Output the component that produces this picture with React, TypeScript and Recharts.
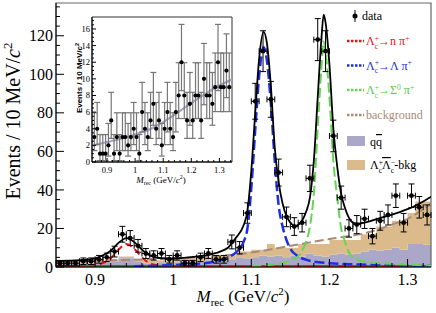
import {
  Area,
  ComposedChart,
  ErrorBar,
  Line,
  ReferenceArea,
  Scatter,
  XAxis,
  YAxis,
} from "recharts"

const serif = '"Liberation Serif", "Times New Roman", serif'
const sans = '"Liberation Sans", Arial, sans-serif'

// ---- main plot: 10 MeV bins, 0.85 - 1.33 GeV
const binCenters = [
  0.855, 0.865, 0.875, 0.885, 0.895, 0.905, 0.915, 0.925, 0.935, 0.945, 0.955, 0.965,
  0.975, 0.985, 0.995, 1.005, 1.015, 1.025, 1.035, 1.045, 1.055, 1.065, 1.075, 1.085,
  1.095, 1.105, 1.115, 1.125, 1.135, 1.145, 1.155, 1.165, 1.175, 1.185, 1.195, 1.205,
  1.215, 1.225, 1.235, 1.245, 1.255, 1.265, 1.275, 1.285, 1.295, 1.305, 1.315, 1.325,
]
const mainCounts = [
  2, 2, 2, 3, 3, 4, 5, 8, 17, 15, 11, 7, 6, 7, 4, 6, 2, 2, 5, 7, 4, 4, 13, 10, 28, 86,
  112, 87, 49, 26, 21, 23, 46, 118, 112, 68, 36, 20, 22, 25, 16, 24, 27, 37, 23, 37, 31, 27,
]
const mainErr = [
  1.4, 1.4, 1.4, 1.7, 1.7, 2, 2.2, 2.8, 4.1, 3.9, 3.3, 2.6, 2.4, 2.6, 2, 2.4, 1.4, 1.4,
  2.2, 2.6, 2, 2, 3.6, 3.2, 5.3, 9.3, 10.6, 9.3, 7, 5.1, 4.6, 4.8, 6.8, 10.9, 10.6, 8.2,
  6, 4.5, 4.7, 5, 4, 4.9, 5.2, 6.1, 4.8, 6.1, 5.6, 5.2,
]
const binHalfWidth = 0.005

const histEdges = [
  0.85, 0.86, 0.87, 0.88, 0.89, 0.9, 0.91, 0.92, 0.93, 0.94, 0.95, 0.96, 0.97, 0.98, 0.99,
  1.0, 1.01, 1.02, 1.03, 1.04, 1.05, 1.06, 1.07, 1.08, 1.09, 1.1, 1.11, 1.12, 1.13, 1.14,
  1.15, 1.16, 1.17, 1.18, 1.19, 1.2, 1.21, 1.22, 1.23, 1.24, 1.25, 1.26, 1.27, 1.28, 1.29,
  1.3, 1.31, 1.32, 1.33,
]
const qqHist = [
  2, 2, 2, 1.5, 2, 2, 2.5, 3, 4.5, 4.5, 3, 2, 2, 2.5, 2, 2.5, 3, 2.5, 3, 3.5, 4, 3.5, 4, 5,
  4.5, 5, 6, 5.5, 6, 5, 6, 5.5, 7, 6, 5.5, 6.5, 7, 6.5, 7, 8, 9, 8.5, 9, 10, 9, 12, 12, 11.5,
]
const lclcHist = [
  1.5, 1.5, 1.5, 2, 1.5, 1.5, 1, 1, 1, 1, 1, 1.5, 1.5, 1, 1.5, 2, 1.5, 2, 1.5, 1.5, 2, 2.5,
  2, 3, 3.5, 4, 3, 6.5, 4, 5, 4, 6.5, 5, 6, 6.5, 7.5, 7, 7.5, 7, 9, 8, 12.5, 12, 14, 15, 16,
  22, 22.5,
]

const totalX = [
  0.85, 0.87, 0.89, 0.9, 0.91, 0.92, 0.93, 0.94, 0.95, 0.96, 0.97, 0.98, 0.99, 1.0, 1.02,
  1.04, 1.06, 1.07, 1.08, 1.09, 1.095, 1.1, 1.105, 1.11, 1.1157, 1.12, 1.125, 1.13, 1.135,
  1.14, 1.145, 1.15, 1.155, 1.16, 1.165, 1.17, 1.175, 1.18, 1.185, 1.19, 1.1926, 1.195, 1.2,
  1.205, 1.21, 1.215, 1.22, 1.225, 1.23, 1.235, 1.24, 1.25, 1.26, 1.27, 1.28, 1.29, 1.3,
  1.31, 1.32, 1.33,
]
const totalY = [
  3.2, 3.3, 3.8, 4.5, 6, 8.5, 12.5, 15, 13, 9, 6, 4.8, 4.5, 4.5, 5, 6, 8, 10, 15, 21.5, 29,
  50, 80, 108, 122, 116, 94, 62, 44, 33, 26.5, 23, 21.5, 21.8, 24, 28.5, 36, 55, 88, 120,
  131, 127, 105, 72, 52, 38, 30.5, 25.5, 23, 22.5, 22.7, 23.5, 24.8, 26, 27.2, 28.5, 30,
  31.8, 34, 36.5,
]
const nPiX = [0.85, 0.88, 0.9, 0.91, 0.92, 0.93, 0.94, 0.95, 0.96, 0.97, 0.98, 1.0, 1.05, 1.33]
const nPiY = [0.3, 0.5, 1, 2, 4.5, 9, 12, 9.5, 5, 2, 0.9, 0.4, 0.3, 0.2]
const lamPiX = [
  0.95, 1.0, 1.04, 1.06, 1.07, 1.08, 1.09, 1.095, 1.1, 1.105, 1.11, 1.1157, 1.12, 1.125,
  1.13, 1.135, 1.14, 1.145, 1.15, 1.16, 1.17, 1.18, 1.2, 1.22, 1.25, 1.3, 1.33,
]
const lamPiY = [
  0.4, 1, 2, 3.5, 5, 7.5, 13, 20, 41, 71, 99, 114, 107, 85, 55, 32, 21, 14, 9.5, 5.5, 3.8,
  2.8, 2, 1.5, 1.2, 0.8, 0.6,
]
const sigPiX = [
  1.1, 1.12, 1.14, 1.15, 1.16, 1.165, 1.17, 1.175, 1.18, 1.185, 1.19, 1.1926, 1.195, 1.2,
  1.205, 1.21, 1.215, 1.22, 1.225, 1.23, 1.235, 1.25, 1.27, 1.3, 1.33,
]
const sigPiY = [
  0.6, 1, 2, 3.5, 5.5, 8.5, 13, 21, 38, 72, 105, 117, 112, 88, 55, 36, 20, 13, 7.5, 5, 4,
  2.5, 1.8, 1.2, 0.8,
]
const bkgX = [0.85, 0.9, 0.95, 1.0, 1.05, 1.1, 1.15, 1.2, 1.25, 1.28, 1.3, 1.32, 1.33]
const bkgY = [3, 3.3, 3.8, 4.5, 5.5, 7.5, 11, 14.5, 18, 22, 25, 30, 33]
const floorX = [0.85, 1.33]
const floorY = [0.5, 0.5]

const xMajor = [0.9, 1, 1.1, 1.2, 1.3]
const xTicks = [
  0.86, 0.88, 0.9, 0.92, 0.94, 0.96, 0.98, 1, 1.02, 1.04, 1.06, 1.08, 1.1, 1.12, 1.14, 1.16,
  1.18, 1.2, 1.22, 1.24, 1.26, 1.28, 1.3, 1.32,
]
const yMajor = [0, 20, 40, 60, 80, 100, 120]
const yTicks = [
  0, 5, 10, 15, 20, 25, 30, 35, 40, 45, 50, 55, 60, 65, 70, 75, 80, 85, 90, 95, 100, 105,
  110, 115, 120, 125, 130, 135,
]

// ---- inset: same binning, full range
const insetCenters = [...binCenters, 1.335]
const insetCounts = [
  3, 4, 1, 1, 1, 2, 5, 1, 3, 1, 3, 3, 2, 3, 4, 3, 1, 6, 4, 3, 5, 7, 4, 5, 2, 4, 6, 4, 3, 6,
  8, 12, 8, 5, 7, 5, 8, 8, 5, 10, 8, 8, 7, 9, 12, 9, 9, 11, 9,
]
const insetErrLow = [
  1.63, 1.91, 0.83, 0.83, 0.83, 1.29, 2.16, 0.83, 1.63, 0.83, 1.63, 1.63, 1.29, 1.63, 1.91,
  1.63, 0.83, 2.38, 1.91, 1.63, 2.16, 2.58, 1.91, 2.16, 1.29, 1.91, 2.38, 1.91, 1.63, 2.38,
  2.77, 3.41, 2.77, 2.16, 2.58, 2.16, 2.77, 2.77, 2.16, 3.11, 2.77, 2.77, 2.58, 2.94, 3.41,
  2.94, 2.94, 3.26, 2.94,
]
const insetErrHigh = [
  2.92, 3.16, 2.3, 2.3, 2.3, 2.64, 3.38, 2.3, 2.92, 2.3, 2.92, 2.92, 2.64, 2.92, 3.16, 2.92,
  2.3, 3.58, 3.16, 2.92, 3.38, 3.77, 3.16, 3.38, 2.64, 3.16, 3.58, 3.16, 2.92, 3.58, 3.94,
  4.55, 3.94, 3.38, 3.77, 3.38, 3.94, 3.94, 3.38, 4.26, 3.94, 3.94, 3.77, 4.11, 4.55, 4.11,
  4.11, 4.41, 4.11,
]
const insetCurveX = [0.85, 0.9, 0.95, 1.0, 1.05, 1.1, 1.15, 1.2, 1.25, 1.3, 1.35]
const insetCurveY = [2, 2.4, 2.8, 3.3, 3.9, 4.8, 5.9, 7.1, 8.2, 9.2, 10]
const insetYMajor = [0, 2, 4, 6, 8, 10, 12, 14, 16]
const insetYTicks = [
  0, 0.5, 1, 1.5, 2, 2.5, 3, 3.5, 4, 4.5, 5, 5.5, 6, 6.5, 7, 7.5, 8, 8.5, 9, 9.5, 10, 10.5,
  11, 11.5, 12, 12.5, 13, 13.5, 14, 14.5, 15, 15.5, 16, 16.5, 17,
]
const insetXTicks = [
  0.86, 0.88, 0.9, 0.92, 0.94, 0.96, 0.98, 1, 1.02, 1.04, 1.06, 1.08, 1.1, 1.12, 1.14, 1.16,
  1.18, 1.2, 1.22, 1.24, 1.26, 1.28, 1.3, 1.32, 1.34,
]

const zip = (xs: number[], ys: number[]) => xs.map((x, i) => ({ x, y: ys[i] }))
const isIn = (list: number[], v: number) => list.some((m) => Math.abs(m - v) < 1e-6)

// ticks drawn inward, labels outside (ROOT style)
const xTickFactory =
  (major: number[], big: number, small: number, fontSize: number, offset: number) =>
  (props: any) => {
    const { x, y, payload } = props
    const isMajor = isIn(major, payload.value)
    return (
      <g>
        <line x1={x} x2={x} y1={y} y2={y - (isMajor ? big : small)} stroke="#000" />
        {isMajor && (
          <text x={x} y={y + offset} textAnchor="middle" fontSize={fontSize} fontFamily={serif} fill="#000">
            {String(payload.value)}
          </text>
        )}
      </g>
    )
  }

const yTickFactory =
  (major: number[], big: number, small: number, fontSize: number, gap: number) =>
  (props: any) => {
    const { x, y, payload } = props
    const isMajor = isIn(major, payload.value)
    return (
      <g>
        <line x1={x} x2={x + (isMajor ? big : small)} y1={y} y2={y} stroke="#000" />
        {isMajor && (
          <text x={x - gap} y={y} dy="0.35em" textAnchor="end" fontSize={fontSize} fontFamily={serif} fill="#000">
            {String(payload.value)}
          </text>
        )}
      </g>
    )
  }

const dot = (r: number) => (p: any) => <circle cx={p.cx} cy={p.cy} r={r} fill="#000" />

const MainChart = () => {
  const hist = histEdges.map((x, i) => {
    const k = Math.min(i, qqHist.length - 1)
    return { x, qq: qqHist[k], lclc: lclcHist[k] }
  })
  const points = binCenters.map((x, i) => ({ x, y: mainCounts[i], ey: mainErr[i], ex: binHalfWidth }))

  const dashed = (data: any[], color: string, width: number, dash: string) => (
    <Line
      data={data}
      dataKey="y"
      type="monotone"
      stroke={color}
      strokeWidth={width}
      strokeDasharray={dash}
      dot={false}
      activeDot={false}
      isAnimationActive={false}
    />
  )

  return (
    <ComposedChart width={436} height={313} data={hist} margin={{ top: 3, right: 5, bottom: 0, left: 0 }}>
      <XAxis
        dataKey="x"
        type="number"
        domain={[0.85, 1.33]}
        allowDataOverflow
        ticks={xTicks}
        interval={0}
        height={46}
        tickSize={0}
        tickMargin={0}
        tickLine={false}
        axisLine={{ stroke: "#000" }}
        tick={xTickFactory(xMajor, 8, 4, 16, 18)}
      />
      <YAxis
        type="number"
        domain={[0, 137]}
        allowDataOverflow
        ticks={yTicks}
        interval={0}
        width={56}
        tickSize={0}
        tickMargin={0}
        tickLine={false}
        axisLine={{ stroke: "#000" }}
        tick={yTickFactory(yMajor, 8, 4, 16, 3)}
      />
      <Area type="stepAfter" dataKey="qq" stackId="h" stroke="none" fill="#aaa7c9" fillOpacity={1} isAnimationActive={false} />
      <Area type="stepAfter" dataKey="lclc" stackId="h" stroke="none" fill="#dbbb8c" fillOpacity={1} isAnimationActive={false} />
      <Line data={zip(floorX, floorY)} dataKey="y" stroke="#2f7d2f" strokeWidth={2} dot={false} activeDot={false} isAnimationActive={false} />
      {dashed(zip(nPiX, nPiY), "#ee1111", 2, "7 4")}
      {dashed(zip(bkgX, bkgY), "#a88a77", 2, "9 4")}
      {dashed(zip(lamPiX, lamPiY), "#1f2ee6", 2.5, "10 4")}
      {dashed(zip(sigPiX, sigPiY), "#66d455", 2, "10 4")}
      <Line data={zip(totalX, totalY)} dataKey="y" type="monotone" stroke="#000" strokeWidth={1.8} dot={false} activeDot={false} isAnimationActive={false} />
      <Scatter data={points} dataKey="y" fill="#000" shape={dot(2.4)} isAnimationActive={false}>
        <ErrorBar dataKey="ey" direction="y" width={3} stroke="#000" strokeWidth={1} />
        <ErrorBar dataKey="ex" direction="x" width={3} stroke="#000" strokeWidth={1} />
      </Scatter>
      <ReferenceArea x1={0.85} x2={1.33} y1={0} y2={137} fill="none" stroke="#666" strokeWidth={1.2} />
    </ComposedChart>
  )
}

const InsetChart = () => {
  const points = insetCenters.map((x, i) => ({
    x,
    y: insetCounts[i],
    ey: [insetErrLow[i], insetErrHigh[i]],
  }))
  return (
    <ComposedChart width={175} height={175} margin={{ top: 7, right: 3, bottom: 0, left: 0 }}>
      <XAxis
        dataKey="x"
        type="number"
        domain={[0.8466, 1.3448]}
        allowDataOverflow
        ticks={insetXTicks}
        interval={0}
        height={23}
        tickSize={0}
        tickMargin={0}
        tickLine={false}
        axisLine={{ stroke: "#000" }}
        tick={xTickFactory(xMajor, 4, 2, 8.5, 11)}
      />
      <YAxis
        type="number"
        domain={[0, 17.44]}
        allowDataOverflow
        ticks={insetYTicks}
        interval={0}
        width={32}
        tickSize={0}
        tickMargin={0}
        tickLine={false}
        axisLine={{ stroke: "#000" }}
        tick={yTickFactory(insetYMajor, 4, 2, 8.5, 2)}
      />
      <ReferenceArea x1={0.8466} x2={1.3448} y1={0} y2={17.44} fill="#fff" fillOpacity={1} stroke="#333" strokeWidth={1} />
      <Line data={zip(insetCurveX, insetCurveY)} dataKey="y" type="monotone" stroke="#a8a4c8" strokeWidth={2.2} dot={false} activeDot={false} isAnimationActive={false} />
      <Scatter data={points} dataKey="y" fill="#000" shape={dot(2.1)} isAnimationActive={false}>
        <ErrorBar dataKey="ey" direction="y" width={3} stroke="#777" strokeWidth={1.2} />
      </Scatter>
    </ComposedChart>
  )
}

const LcText = ({ x, y, color, tail, bar }: { x: number; y: number; color: string; tail: any; bar?: boolean }) => (
  <text x={x} y={y} fontSize={12} fontFamily={serif} fill={color}>
    Λ
    <tspan fontSize={7.5} dy={-4.5}>+</tspan>
    <tspan fontSize={7.5} dx={-4.2} dy={8}>c</tspan>
    <tspan fontSize={12} dy={-3.5}>{tail}</tspan>
  </text>
)

const Overlay = () => {
  const legendRows = [
    { y: 41, color: "#ee1111" },
    { y: 65.5, color: "#1f2ee6" },
    { y: 90, color: "#66d455" },
    { y: 115, color: "#a88a77" },
  ]
  return (
    <svg width={436} height={313} style={{ position: "absolute", left: 0, top: 0, pointerEvents: "none" }}>
      {/* main axis titles */}
      <text transform="translate(20,121) rotate(-90)" textAnchor="middle" fontSize={20} fontFamily={serif} fill="#000">
        Events / 10 MeV/<tspan fontStyle="italic">c</tspan>
        <tspan fontSize={13} dy={-8}>2</tspan>
      </text>
      <text x={243} y={302} textAnchor="middle" fontSize={17} fontFamily={serif} fill="#000">
        <tspan fontStyle="italic">M</tspan>
        <tspan fontSize={11} dy={4}>rec</tspan>
        <tspan dy={-4}> (GeV/</tspan>
        <tspan fontStyle="italic">c</tspan>
        <tspan fontSize={11} dy={-7}>2</tspan>
        <tspan dy={7}>)</tspan>
      </text>

      {/* inset axis titles */}
      <text transform="translate(82,78) rotate(-90)" textAnchor="middle" fontSize={8} fontWeight="bold" fontFamily={sans} fill="#000">
        Events / 10 MeV/<tspan fontStyle="italic">c</tspan>
        <tspan fontSize={5.5} dy={-3}>2</tspan>
      </text>
      <text x={161} y={183} textAnchor="middle" fontSize={9} fontFamily={serif} fill="#000">
        <tspan fontStyle="italic">M</tspan>
        <tspan fontSize={6} dy={2}>rec</tspan>
        <tspan dy={-2}> (GeV/</tspan>
        <tspan fontStyle="italic">c</tspan>
        <tspan fontSize={6} dy={-4}>2</tspan>
        <tspan dy={4}>)</tspan>
      </text>

      {/* legend */}
      <line x1={355} x2={355} y1={10} y2={22} stroke="#000" strokeWidth={1} />
      <circle cx={355} cy={16} r={2.5} fill="#000" />
      <text x={362} y={20} fontSize={12} fontFamily={serif} fill="#000">data</text>
      {legendRows.map((r) => (
        <line key={r.y} x1={347} x2={364} y1={r.y} y2={r.y} stroke={r.color} strokeWidth={2.5} strokeDasharray="2.5 1.5" />
      ))}
      <LcText x={366} y={45} color="#ee1111" tail={<>→n π<tspan fontSize={7.5} dy={-4.5}>+</tspan></>} />
      <LcText x={366} y={69.5} color="#1f2ee6" tail={<>→Λ π<tspan fontSize={7.5} dy={-4.5}>+</tspan></>} />
      <LcText
        x={366}
        y={94}
        color="#55cc44"
        tail={
          <>
            →Σ<tspan fontSize={7.5} dy={-4.5}>0</tspan>
            <tspan fontSize={12} dy={4.5}> π</tspan>
            <tspan fontSize={7.5} dy={-4.5}>+</tspan>
          </>
        }
      />
      <text x={366} y={119} fontSize={12} fontFamily={serif} fill="#a88a77">background</text>
      <rect x={347} y={136} width={18} height={10} fill="#aaa7c9" />
      <text x={370} y={146} fontSize={12} fontFamily={serif} fill="#000">
        q<tspan textDecoration="overline" style={{ textDecoration: "overline" }}>q</tspan>
      </text>
      <rect x={347} y={160} width={18} height={10} fill="#dbbb8c" />
      <text x={370} y={169} fontSize={12} fontFamily={serif} fill="#000">
        Λ
        <tspan fontSize={7.5} dy={-4.5}>+</tspan>
        <tspan fontSize={7.5} dx={-4.2} dy={8}>c</tspan>
        <tspan fontSize={12} dy={-3.5} style={{ textDecoration: "overline" }}>Λ</tspan>
        <tspan fontSize={7.5} dy={-4.5}>−</tspan>
        <tspan fontSize={7.5} dx={-4.2} dy={8}>c</tspan>
        <tspan fontSize={12} dy={-3.5}>-bkg</tspan>
      </text>
    </svg>
  )
}

export default function App() {
  return (
    <div style={{ position: "absolute", left: 0, top: 0, width: 436, height: 313, background: "#fff" }}>
      <MainChart />
      <div style={{ position: "absolute", left: 60, top: 10 }}>
        <InsetChart />
      </div>
      <Overlay />
    </div>
  )
}
